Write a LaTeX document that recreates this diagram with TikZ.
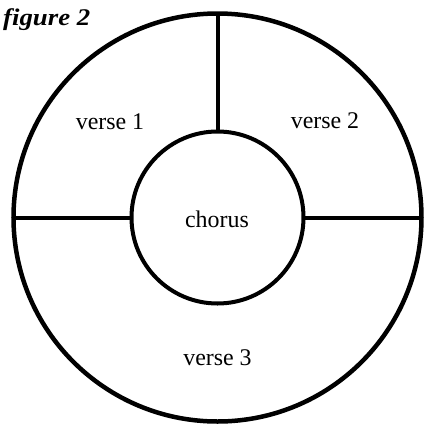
\documentclass[tikz,border=0pt]{standalone}
\usepackage{fontspec}
\setmainfont{Liberation Serif}
\begin{document}
\begin{tikzpicture}[x=1bp,y=-1bp,
  ring/.style={circle,draw,inner sep=0pt,outer sep=0pt},
  spoke/.style={line width=4bp},
  label/.style={anchor=base,inner sep=0pt,font=\fontsize{24}{28}\selectfont}]
\useasboundingbox (0,0) rectangle (425,425);
\coordinate (c) at (217.5,217.5);
\node[ring,line width=4.5bp,minimum size=408bp] (outer) at (c) {};
\node[ring,line width=4bp,minimum size=172bp] (inner) at (c) {};
\draw[spoke] (outer.north) -- (inner.north);
\draw[spoke] (outer.west) -- (inner.west);
\draw[spoke] (outer.east) -- (inner.east);
\node[label] (v1) at (110,129) {verse 1};
\node[label] (v2) at (325,128) {verse 2};
\node[label] (ch) at (217,227) {chorus};
\node[label] (v3) at (217.5,365) {verse 3};
\node[anchor=base west,inner sep=0pt,font=\fontsize{24}{28}\selectfont\bfseries\itshape] (fig) at (3,25) {\scalebox{1.12}[1]{figure 2}};
\end{tikzpicture}
\end{document}
